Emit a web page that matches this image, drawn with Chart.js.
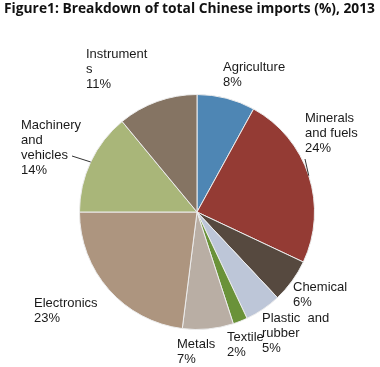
<!DOCTYPE html>
<html>
<head>
<meta charset="utf-8">
<script src="https://cdn.jsdelivr.net/npm/chart.js@4"></script>
<style>
  html, body { margin: 0; padding: 0; background: #fff; }
  #wrap { width: 380px; height: 367px; position: relative; }
</style>
</head>
<body>
<div id="wrap"><canvas id="pie" width="380" height="367"></canvas></div>
<script>
// data
const categories = ["Agriculture", "Minerals and fuels", "Chemical", "Plastic and rubber", "Textile", "Metals", "Electronics", "Machinery and vehicles", "Instruments"];
const shares = [8, 24, 6, 5, 2, 7, 23, 14, 11];
const labelLines = [
    ["Agriculture"],
    ["Minerals", "and fuels"],
    ["Chemical"],
    ["Plastic  and", "rubber"],
    ["Textile"],
    ["Metals"],
    ["Electronics"],
    ["Machinery", "and", "vehicles"],
    ["Instrument", "s"]
];

// styles
const sliceColors = ["#4e86b4", "#943b34", "#56493f", "#bdc6d8", "#6a9239", "#b9aea4", "#ad957f", "#a9b679", "#857463"];
// label top-left positions (px) and optional leader lines
const labelPos = [
    [223, 61], [305, 112], [293, 281], [262, 312], [227, 331],
    [177, 338], [34, 297], [21, 119], [86, 48]
];
const leaders = { 1: [305, 159], 7: [72, 156] };

const labelPlugin = {
    id: "pieLabels",
    afterDraw(chart) {
        const ctx = chart.ctx;
        ctx.save();
        // title
        ctx.fillStyle = "#111";
        ctx.font = "bold 14px 'Open Sans', sans-serif";
        ctx.textBaseline = "top";
        ctx.fillText("Figure1: Breakdown of total Chinese imports (%), 2013", 4, 2, 371);

        ctx.font = "13px 'Liberation Sans', Arial, sans-serif";
        ctx.fillStyle = "#1a1a1a";
        const meta = chart.getDatasetMeta(0);
        meta.data.forEach((arc, i) => {
            const [x, y] = labelPos[i];
            const lines = labelLines[i].concat([shares[i] + "%"]);
            lines.forEach((t, k) => ctx.fillText(t, x, y + k * 15));
            if (leaders[i]) {
                const mid = (arc.startAngle + arc.endAngle) / 2;
                const ex = arc.x + Math.cos(mid) * arc.outerRadius;
                const ey = arc.y + Math.sin(mid) * arc.outerRadius;
                ctx.strokeStyle = "#333";
                ctx.lineWidth = 1;
                ctx.beginPath();
                ctx.moveTo(leaders[i][0], leaders[i][1]);
                ctx.lineTo(ex, ey);
                ctx.stroke();
            }
        });
        ctx.restore();
    }
};

new Chart(document.getElementById("pie"), {
    type: "pie",
    data: {
        labels: categories,
        datasets: [{
            data: shares,
            backgroundColor: sliceColors,
            borderColor: "#ececec",
            borderWidth: 1
        }]
    },
    options: {
        responsive: false,
        animation: false,
        layout: { padding: { left: 79, right: 65, top: 94, bottom: 37 } },
        plugins: {
            legend: { display: false },
            tooltip: { enabled: false }
        }
    },
    plugins: [labelPlugin]
});
</script>
</body>
</html>
